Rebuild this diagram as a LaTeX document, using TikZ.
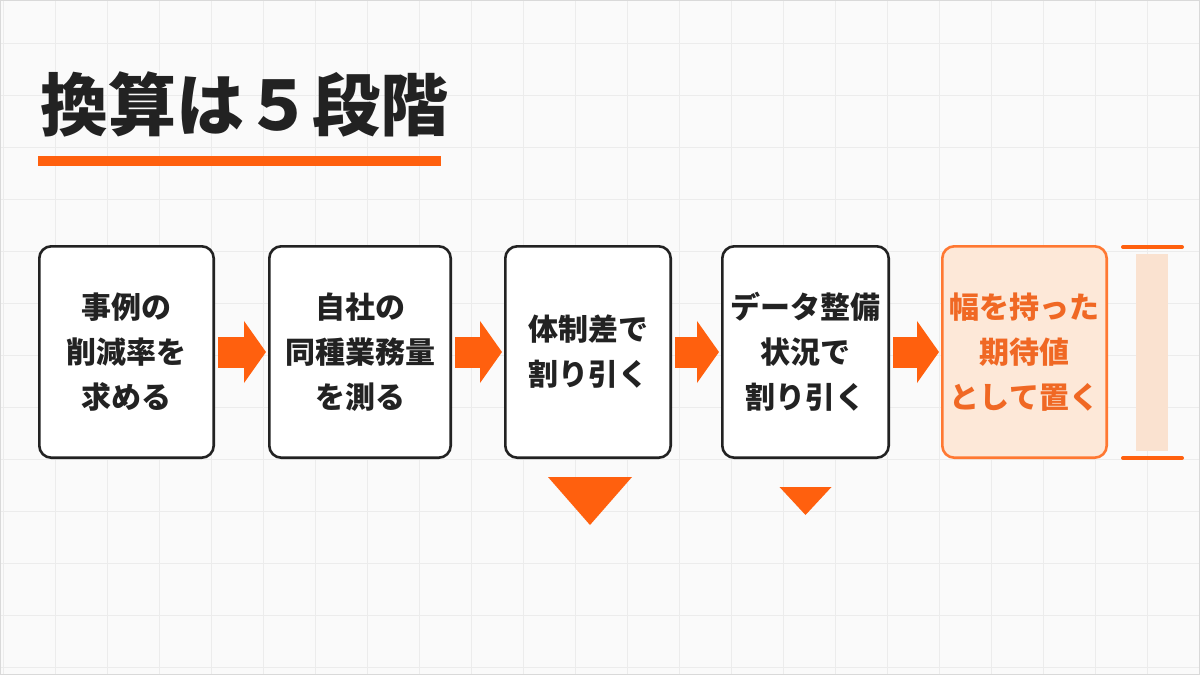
\documentclass[tikz,border=0pt]{standalone}
\usepackage{fontspec}
\setmainfont{Noto Sans CJK JP}
\usepackage{xcolor}
\usepackage{tikz}
\usetikzlibrary{arrows.meta,positioning,calc}
\definecolor{inkdark}{RGB}{34,34,34}
\definecolor{accent}{RGB}{255,96,14}
\definecolor{softpeach}{RGB}{253,232,216}
\definecolor{barpeach}{RGB}{250,226,208}
\definecolor{accenttext}{RGB}{240,104,36}
\definecolor{pagebg}{RGB}{250,250,250}
\definecolor{gridgray}{RGB}{236,236,236}
\tikzset{
  stepbox/.style={rectangle, rounded corners=12pt, draw=inkdark, line width=2.6pt, fill=white, align=center, minimum height=211.4pt, font=\fontsize{30}{45}\selectfont\bfseries, text=inkdark},
  resultbox/.style={stepbox, draw=accent!85, fill=softpeach, text=accenttext},
  flow/.style={-{Triangle[width=61pt,length=22pt]}, line width=31pt, draw=accent, shorten <=3pt, shorten >=2pt},
  gridline/.style={draw=gridgray, line width=0.8pt}
}
\begin{document}
\begin{tikzpicture}[x=1pt, y=-1pt]
\useasboundingbox (0,0) rectangle (1200,675);
\fill[pagebg] (0,0) rectangle (1200,675);
\foreach \x in {3,55,...,1199} \draw[gridline] (\x,0) -- (\x,675);
\foreach \y in {43,95,...,675} \draw[gridline] (0,\y) -- (1200,\y);
\draw[gridline, draw=black!15] (0.5,0.5) rectangle (1199.5,674.5);
% title
\node[anchor=west, inner sep=0pt, text=inkdark, font=\fontsize{68}{80}\selectfont\bfseries] (title) at (40,104) {換算は５段階};
\fill[accent] (38,156) rectangle (441,166);
% steps
\node[stepbox, minimum width=174.4pt] (s1) at (126.5,352) {事例の\\削減率を\\求める};
\node[stepbox, minimum width=181.4pt, right=53pt of s1] (s2) {自社の\\同種業務量\\を測る};
\node[stepbox, minimum width=165.4pt, right=52pt of s2] (s3) {体制差で\\割り引く};
\node[stepbox, minimum width=166.4pt, right=49pt of s3] (s4) {データ整備\\状況で\\割り引く};
\node[resultbox, minimum width=164.4pt, right=51pt of s4] (s5) {幅を持った\\期待値\\として置く};
\draw[flow] (s1) -- (s2);
\draw[flow] (s2) -- (s3);
\draw[flow] (s3) -- (s4);
\draw[flow] (s4) -- (s5);
% discount markers
\fill[accent] ($(s3.south)+(-40,18)$) -- ++(84,0) -- ($(s3.south)+(2,66)$) -- cycle;
\fill[accent] ($(s4.south)+(-26,28)$) -- ++(52,0) -- ($(s4.south)+(0,56)$) -- cycle;
% range bracket
\fill[barpeach] (1136,254) rectangle (1168,451);
\draw[accent, line width=4pt, line cap=round] (1123,247) -- (1182,247);
\draw[accent, line width=4pt, line cap=round] (1123,458) -- (1182,458);
\end{tikzpicture}
\end{document}
